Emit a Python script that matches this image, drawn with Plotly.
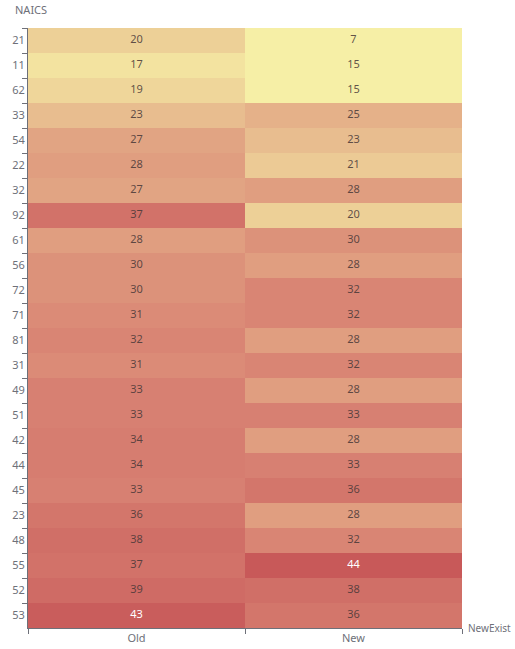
import plotly.graph_objects as go

naics = ["21", "11", "62", "33", "54", "22", "32", "92", "61", "56", "72", "71",
         "81", "31", "49", "51", "42", "44", "45", "23", "48", "55", "52", "53"]
groups = ["Old", "New"]
old_vals = [20, 17, 19, 23, 27, 28, 27, 37, 28, 30, 30, 31,
            32, 31, 33, 33, 34, 34, 33, 36, 38, 37, 39, 43]
new_vals = [7, 15, 15, 25, 23, 21, 28, 20, 30, 28, 32, 32,
            28, 32, 28, 33, 28, 33, 36, 28, 32, 44, 38, 36]

vmin, vmax = 15, 50
colors = ["#f6efa6", "#d88273", "#bf444c"]

z = [[o, n] for o, n in zip(old_vals, new_vals)]

fig = go.Figure()
fig.add_trace(go.Heatmap(
    x=groups, y=naics, z=z,
    zmin=vmin, zmax=vmax,
    colorscale=[[0, colors[0]], [0.5, colors[1]], [1, colors[2]]],
    showscale=False, xgap=0, ygap=0,
    hoverinfo="x+y+z",
))

tx, ty, tt, tc = [], [], [], []
for i, n in enumerate(naics):
    for j, g in enumerate(groups):
        v = z[i][j]
        tx.append(g)
        ty.append(n)
        tt.append(str(v))
        tc.append("#ffffff" if v >= 40 else "rgba(70,55,55,0.85)")

fig.add_trace(go.Scatter(
    x=tx, y=ty, text=tt, mode="text",
    textfont=dict(size=11, family="Noto Sans", color=tc),
    hoverinfo="skip", showlegend=False,
))

axis_col = "#6e7079"
fig.update_layout(
    width=515, height=649,
    margin=dict(l=28, r=53, t=28, b=21),
    paper_bgcolor="white", plot_bgcolor="white",
    showlegend=False,
    font=dict(family="Noto Sans", size=11, color=axis_col),
    xaxis=dict(type="category", categoryorder="array", categoryarray=groups,
               range=[-0.5, len(groups) - 0.5], automargin=False,
               showline=True, linecolor=axis_col, linewidth=1,
               ticks="outside", tickson="boundaries", ticklen=5, tickcolor=axis_col,
               showgrid=False, zeroline=False, tickfont=dict(size=11, color=axis_col)),
    yaxis=dict(type="category", categoryorder="array", categoryarray=naics,
               range=[len(naics) - 0.5, -0.5], automargin=False,
               showline=True, linecolor=axis_col,
               linewidth=1, ticks="outside", tickson="boundaries", ticklen=5,
               tickcolor=axis_col, showgrid=False, zeroline=False,
               tickfont=dict(size=11, color=axis_col)),
)
fig.add_annotation(text="NAICS", xref="paper", yref="paper", x=-0.035, y=1.03,
                   xanchor="left", yanchor="middle", showarrow=False,
                   font=dict(size=11, color=axis_col))
fig.add_annotation(text="NewExist", xref="paper", yref="paper", x=1.118, y=0,
                   xanchor="right", yanchor="middle", showarrow=False,
                   font=dict(size=10, color=axis_col))

fig.write_html("out.html", config={"displayModeBar": False},
               post_script="document.body.style.margin='0';document.body.style.overflow='hidden';")
